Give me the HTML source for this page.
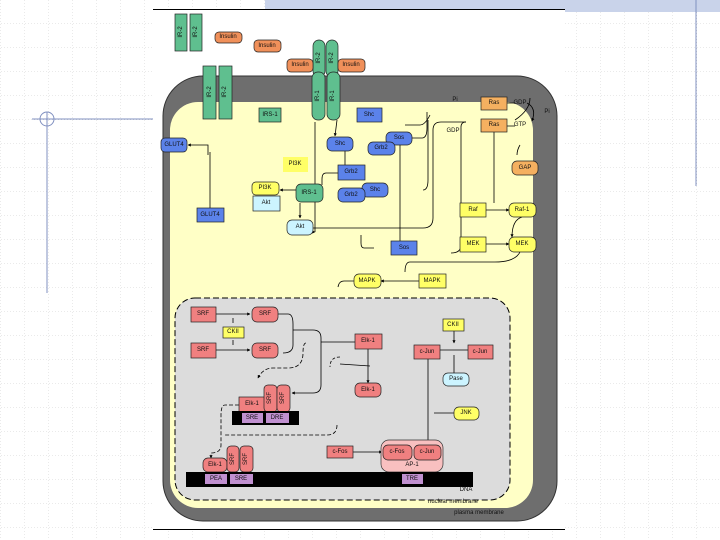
<!DOCTYPE html>
<html><head><style>
html,body{margin:0;padding:0;background:#fff;}
svg{display:block;}
text{font-family:"Liberation Sans",sans-serif;font-size:6px;fill:#111;text-anchor:middle;dominant-baseline:central;}
</style></head><body>
<svg width="720" height="540" viewBox="0 0 720 540" xmlns="http://www.w3.org/2000/svg">
<defs>
<pattern id="g" width="24" height="24" patternUnits="userSpaceOnUse" x="1" y="0">
<path d="M24 0V24M0 24H24" stroke="#d4d4d4" stroke-width="1" stroke-dasharray="1,2" fill="none"/>
</pattern>
<marker id="a" markerWidth="4" markerHeight="4" refX="3.5" refY="2" orient="auto"><path d="M0,0L4,2L0,4z" fill="#000"/></marker>
</defs>
<rect width="720" height="540" fill="url(#g)"/>
<rect x="265" y="0" width="455" height="12" fill="#c9d3ea"/>
<line x1="696" y1="0" x2="696" y2="186" stroke="#8090c0" stroke-width="1"/>
<line x1="32" y1="119" x2="153" y2="119" stroke="#8090c0"/>
<line x1="47" y1="112" x2="47" y2="293" stroke="#8090c0"/>
<circle cx="47" cy="119" r="7" fill="none" stroke="#8090c0"/>
<rect x="153" y="10" width="412" height="520" fill="#fff"/>
<line x1="153" y1="9.5" x2="565" y2="9.5" stroke="#000"/>
<line x1="153" y1="529.5" x2="565" y2="529.5" stroke="#000"/>

<!-- membranes -->
<rect x="163" y="76" width="394" height="445" rx="40" fill="#6e6e6e" stroke="#333"/>
<rect x="170" y="102" width="363" height="406" rx="28" fill="#ffffc6"/>
<rect x="175" y="298" width="335" height="202" rx="20" fill="#dcdcdc" stroke="#000" stroke-dasharray="6,3"/>

<g stroke="#000" stroke-width="0.8" fill="none">
<!-- connectors -->
<path d="M315 122V232h0" marker-end="url(#a)"/>
<path d="M337 120L335 136" marker-end="url(#a)"/>
<path d="M208 155V145h-20" marker-end="url(#a)"/>
<path d="M210 209V152"/>
<path d="M296 190h-16" marker-end="url(#a)"/>
<path d="M300 203V218" marker-end="url(#a)"/>
<path d="M313 228h110q10 0 10-10V130q0-8 8-8h25"/>
<path d="M353 145q-8 0 -8 5V180"/>
<path d="M343 173h-17q-4 0-4 6V185"/>
<path d="M400 145V241"/>
<path d="M374 248h-10q-3 0-3-5V235"/>
<path d="M412 138h10q5 0 5-10V112"/>
<path d="M405 125H420q5 0 10 -10"/>
<path d="M423 190q5 0 5-10V120"/>
<path d="M466 122q-5 0 -5 5V245q0 8-10 8"/>
<path d="M494 132V203"/>
<path d="M486 210h23" marker-end="url(#a)"/>
<path d="M486 244h23" marker-end="url(#a)"/>
<path d="M522 217q-10 3-10 20" marker-end="url(#a)"/>
<path d="M520 252q-5 10-25 10H410q-5 0-5 10"/>
<path d="M419 281h-38" marker-end="url(#a)"/>
<path d="M354 281h-10q-5 0-6 6"/>
<path d="M507 103h8M507 126h8"/>
<path d="M527 103q10 5 5 18" marker-end="url(#a)"/>
<path d="M515 120q15-10 15-22"/>
<path d="M520 145q-3 5-3 10"/>
<path d="M216 314h34" marker-end="url(#a)"/>
<path d="M216 350h34" marker-end="url(#a)"/>
<path d="M233 323v-5M233 340v5"/>
<path d="M278 314h10q5 0 5 10V345q0 8-10 8"/>
<path d="M293 330h20q8 0 8 8V385q0 8-8 8H292" marker-end="url(#a)"/>
<path d="M321 342h34"/>
<path d="M368 349V383" marker-end="url(#a)"/>
<path d="M340 357q-10 0-10 10" stroke-dasharray="3,2"/>
<path d="M340 364q0 0 30 2"/>
<path d="M306 343q-3 0-3 10q0 15-15 15h-15q-10 0-15 10" marker-end="url(#a)" stroke-dasharray="4,2"/>
<path d="M239 405h-14q-4 0-4 10v30q0 8-10 8v5" marker-end="url(#a)" stroke-dasharray="4,2"/>
<path d="M337 425q0 10-10 10H225" stroke-dasharray="4,2"/>
<path d="M353 452h29" marker-end="url(#a)"/>
<path d="M428 359V445" marker-end="url(#a)"/>
<path d="M454 331V343" marker-end="url(#a)"/>
<path d="M440 350h28"/>
<path d="M454 355v18"/>
<path d="M454 413h-20"/>
</g>

<g stroke="#222" stroke-width="0.7">
<!-- green -->
<g fill="#5fbf8f">
<rect x="175" y="14" width="12" height="37"/><rect x="190" y="14" width="12" height="37"/>
<rect x="203" y="66" width="13" height="53"/><rect x="219" y="66" width="13" height="53"/>
<rect x="313" y="40" width="12" height="37" rx="6"/><rect x="326" y="40" width="12" height="37" rx="6"/>
<rect x="312" y="72" width="13" height="48" rx="6"/><rect x="327" y="72" width="13" height="48" rx="6"/>
<rect x="259" y="108" width="22" height="14"/>
<rect x="296" y="184" width="27" height="18" rx="5"/>
</g>
<!-- orange insulin -->
<g fill="#f0905a">
<rect x="215" y="32" width="27" height="11" rx="4"/><rect x="254" y="40" width="27" height="12" rx="4"/>
<rect x="287" y="59" width="26" height="13" rx="4"/><rect x="338" y="59" width="27" height="13" rx="4"/>
</g>
<g fill="#f5b060">
<rect x="481" y="97" width="26" height="13"/><rect x="481" y="119" width="26" height="13"/>
<rect x="512" y="161" width="26" height="14" rx="5"/>
</g>
<!-- blue -->
<g fill="#5b82ea">
<rect x="357" y="108" width="25" height="14"/>
<rect x="161" y="138" width="26" height="14" rx="4"/>
<rect x="327" y="137" width="26" height="14" rx="5"/>
<rect x="386" y="132" width="26" height="13" rx="5"/>
<rect x="368" y="142" width="27" height="13" rx="5"/>
<rect x="338" y="165" width="27" height="15"/>
<rect x="362" y="183" width="26" height="14" rx="5"/>
<rect x="338" y="188" width="27" height="14" rx="5"/>
<rect x="197" y="208" width="27" height="14"/>
<rect x="391" y="241" width="26" height="14"/>
</g>
<!-- yellow -->
<g fill="#ffff66">
<rect x="283" y="157" width="25" height="15" stroke="none"/>
<rect x="252" y="182" width="27" height="13" rx="4"/>
<rect x="460" y="203" width="26" height="14"/><rect x="509" y="203" width="27" height="14" rx="5"/>
<rect x="460" y="237" width="26" height="15"/><rect x="509" y="237" width="27" height="15" rx="5"/>
<rect x="354" y="274" width="27" height="14" rx="5"/><rect x="419" y="274" width="27" height="14"/>
<rect x="223" y="327" width="21" height="11"/>
<rect x="443" y="319" width="21" height="12"/>
<rect x="454" y="407" width="25" height="13" rx="5"/>
</g>
<g fill="#ccf4ff">
<rect x="253" y="196" width="27" height="15"/>
<rect x="287" y="220" width="26" height="15" rx="5"/>
<rect x="443" y="373" width="26" height="13" rx="5"/>
</g>
<!-- pink -->
<rect x="381" y="440" width="62" height="32" rx="8" fill="#f8c0c0" stroke="#333"/>
<g fill="#f08080">
<rect x="191" y="307" width="25" height="15"/><rect x="252" y="307" width="26" height="15" rx="5"/>
<rect x="191" y="343" width="25" height="15"/><rect x="252" y="343" width="26" height="15" rx="5"/>
<rect x="355" y="334" width="27" height="15"/>
<rect x="355" y="383" width="26" height="14" rx="5"/>
<rect x="239" y="397" width="26" height="15"/>
<rect x="264" y="385" width="13" height="27" rx="4"/><rect x="277" y="385" width="13" height="27" rx="4"/>
<rect x="414" y="345" width="26" height="14"/><rect x="468" y="345" width="25" height="14"/>
<rect x="327" y="446" width="26" height="12"/>
<rect x="383" y="445" width="29" height="15" rx="5"/><rect x="414" y="445" width="27" height="15" rx="5"/>
<rect x="203" y="458" width="24" height="14" rx="5"/>
<rect x="227" y="446" width="12" height="26" rx="4"/><rect x="240" y="446" width="13" height="26" rx="4"/>
</g>
</g>
<rect x="232" y="411" width="67" height="14" fill="#000"/>
<rect x="186" y="472" width="287" height="15" fill="#000"/>
<g fill="#c090d0">
<rect x="242" y="413" width="21" height="10"/><rect x="266" y="413" width="23" height="10"/>
<rect x="205" y="474" width="22" height="10"/><rect x="230" y="474" width="23" height="10"/>
<rect x="402" y="474" width="21" height="10"/>
</g>

<!-- labels -->
<g>
<text x="181" y="32" transform="rotate(-90 181 32)">IR-2</text><text x="196" y="32" transform="rotate(-90 196 32)">IR-2</text>
<text x="210" y="92" transform="rotate(-90 210 92)">IR-2</text><text x="225" y="92" transform="rotate(-90 225 92)">IR-2</text>
<text x="319" y="58" transform="rotate(-90 319 58)">IR-2</text><text x="332" y="58" transform="rotate(-90 332 58)">IR-2</text>
<text x="318" y="96" transform="rotate(-90 318 96)">IR-1</text><text x="333" y="96" transform="rotate(-90 333 96)">IR-1</text>
<text x="228" y="37">Insulin</text><text x="267" y="46">Insulin</text><text x="300" y="65">Insulin</text><text x="351" y="65">Insulin</text>
<text x="270" y="115">IRS-1</text><text x="369" y="115">Shc</text>
<text x="494" y="103">Ras</text><text x="494" y="125">Ras</text>
<text x="520" y="103">GDP</text><text x="547" y="112">Pi</text><text x="520" y="125">GTP</text>
<text x="453" y="131">GDP</text><text x="455" y="100">Pi</text>
<text x="174" y="145">GLUT4</text><text x="340" y="144">Shc</text><text x="399" y="138">Sos</text><text x="381" y="148">Grb2</text>
<text x="295" y="164">PI3K</text><text x="351" y="172">Grb2</text><text x="525" y="168">GAP</text>
<text x="265" y="188">PI3K</text><text x="309" y="193">IRS-1</text><text x="375" y="190">Shc</text><text x="351" y="195">Grb2</text>
<text x="266" y="203">Akt</text><text x="210" y="215">GLUT4</text><text x="300" y="227">Akt</text><text x="404" y="248">Sos</text>
<text x="473" y="210">Raf</text><text x="522" y="210">Raf-1</text><text x="473" y="244">MEK</text><text x="522" y="244">MEK</text>
<text x="367" y="281">MAPK</text><text x="432" y="281">MAPK</text>
<text x="203" y="314">SRF</text><text x="265" y="314">SRF</text><text x="233" y="332">CKII</text>
<text x="203" y="350">SRF</text><text x="265" y="350">SRF</text><text x="368" y="341">Elk-1</text><text x="368" y="390">Elk-1</text>
<text x="453" y="325">CKII</text><text x="427" y="352">c-Jun</text><text x="480" y="352">c-Jun</text><text x="456" y="379">Pase</text>
<text x="466" y="413">JNK</text>
<text x="252" y="404">Elk-1</text>
<text x="270" y="398" transform="rotate(-90 270 398)">SRF</text><text x="283" y="398" transform="rotate(-90 283 398)">SRF</text>
<text x="252" y="418" fill="#000">SRE</text><text x="277" y="418">DRE</text>
<text x="340" y="452">c-Fos</text><text x="397" y="452">c-Fos</text><text x="427" y="452">c-Jun</text><text x="412" y="465">AP-1</text>
<text x="215" y="465">Elk-1</text>
<text x="233" y="459" transform="rotate(-90 233 459)">SRF</text><text x="246" y="459" transform="rotate(-90 246 459)">SRF</text>
<text x="216" y="479">PEA</text><text x="241" y="479">SRE</text><text x="412" y="479">TRE</text>
<text x="466" y="490">DNA</text>
<text x="453" y="502">nuclear membrane</text>
<text x="479" y="513">plasma membrane</text>
</g>
</svg>
</body></html>
